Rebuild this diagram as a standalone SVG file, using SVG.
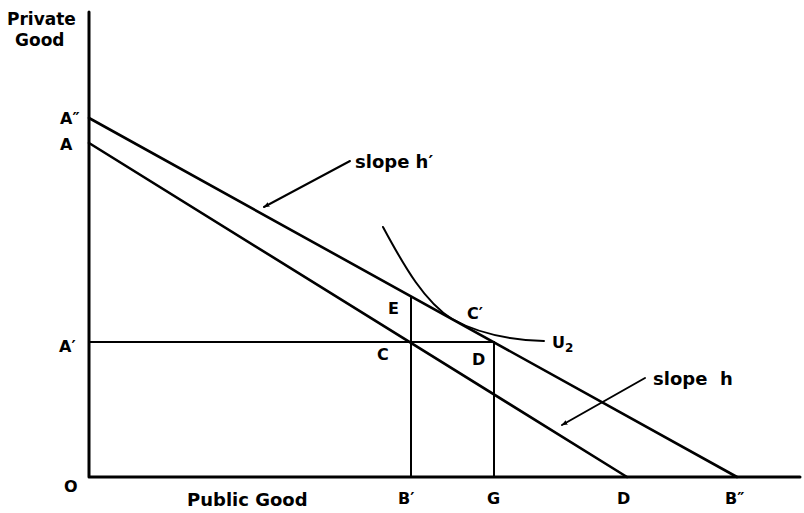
<svg xmlns="http://www.w3.org/2000/svg" width="804" height="513" viewBox="0 0 804 513">
<style>
.ln{fill:none;stroke:#000;stroke-linecap:round;stroke-linejoin:round}
.t{font-family:"DejaVu Sans","Liberation Sans",sans-serif;font-weight:bold;fill:#000}
.lb{font-size:16px}
.ti{font-size:17px}
.sl{font-size:18px}
</style>
<defs>
<marker id="ah" viewBox="0 0 10 10" refX="9" refY="5" markerWidth="6" markerHeight="6" orient="auto" markerUnits="userSpaceOnUse">
<path d="M0,1 L10,5 L0,9 Z" fill="#000"/>
</marker>
</defs>
<rect width="804" height="513" fill="#fff"/>
<g id="axes">
<path class="ln" d="M89,12 V477 H800" stroke-width="3"/>
<text class="t ti" x="7" y="25">Private</text>
<text class="t ti" x="15" y="46">Good</text>
<text class="t sl" x="187" y="506">Public Good</text>
<text class="t lb" x="64" y="492">O</text>
</g>
<g id="budget-A2">
<path class="ln" d="M89,118 L737,477" stroke-width="2.6"/>
<text class="t lb" x="60" y="124">A″</text>
<text class="t lb" x="725" y="504">B″</text>
</g>
<g id="budget-A">
<path class="ln" d="M89,143 L627,477" stroke-width="2.6"/>
<text class="t lb" x="60" y="150">A</text>
<text class="t lb" x="617" y="504">D</text>
</g>
<g id="level-A1">
<path class="ln" d="M89,342 H494" stroke-width="2"/>
<text class="t lb" x="59" y="352">A′</text>
</g>
<g id="vertical-B1">
<path class="ln" d="M411,297 V477" stroke-width="2"/>
<text class="t lb" x="398" y="504">B′</text>
<text class="t lb" x="388" y="314">E</text>
<text class="t lb" x="377" y="360">C</text>
</g>
<g id="vertical-G">
<path class="ln" d="M494,342 V477" stroke-width="2"/>
<text class="t lb" x="487" y="504">G</text>
<text class="t lb" x="472" y="365">D</text>
</g>
<g id="indifference-U2">
<path class="ln" d="M383,227 C405,268 425,302 452,319 C479,334 510,340 544,341" stroke-width="2"/>
<text class="t lb" x="467" y="319">C′</text>
<text class="t lb" x="552" y="348">U<tspan font-size="12" dy="4">2</tspan></text>
</g>
<g id="label-slope-h1">
<text class="t sl" x="355" y="168">slope h′</text>
</g>
<g id="label-slope-h">
<text class="t sl" x="653" y="385">slope<tspan x="720">h</tspan></text>
</g>
<g id="connectors">
<path class="ln" d="M350,161 L264,207" stroke-width="2" marker-end="url(#ah)"/>
<path class="ln" d="M645,378 L562,425" stroke-width="2" marker-end="url(#ah)"/>
</g>
</svg>
